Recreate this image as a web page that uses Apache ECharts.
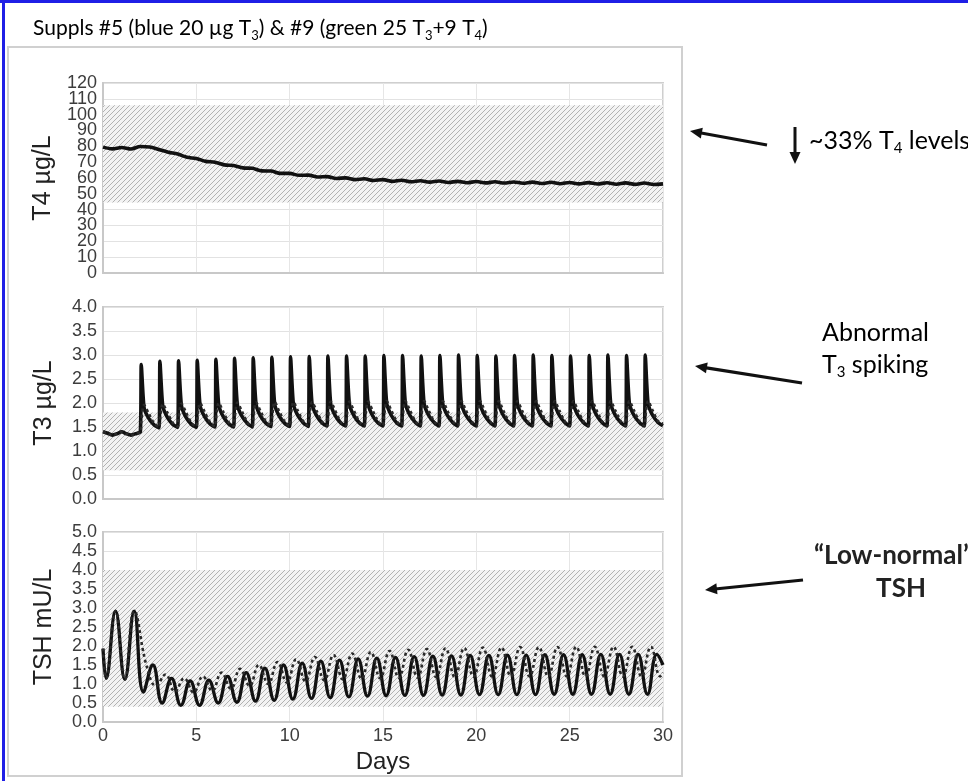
<!DOCTYPE html>
<html><head><meta charset="utf-8">
<script src="https://cdn.jsdelivr.net/npm/echarts@6/dist/echarts.min.js"></script>
<style>html,body{margin:0;padding:0;background:#fff}#c{width:968px;height:781px}</style>
</head><body><div id="c"></div>
<script>
// ---------------- data ----------------
const xTicks = [0, 5, 10, 15, 20, 25, 30];

// T4 (µg/L)
const t4Days = [0,0.5,1,1.5,2,2.5,3,3.5,4,4.5,5,5.5,6,6.5,7,7.5,8,8.5,9,9.5,10,10.5,11,11.5,12,12.5,13,13.5,14,14.5,15,15.5,16,16.5,17,17.5,18,18.5,19,19.5,20,20.5,21,21.5,22,22.5,23,23.5,24,24.5,25,25.5,26,26.5,27,27.5,28,28.5,29,29.5,30];
const t4Level = [79.5,78.4,79.3,78.3,79.9,79.6,78.0,76.3,75.1,73.1,72.3,70.5,70.0,68.3,67.9,66.4,66.1,64.5,64.4,62.9,62.9,61.7,61.8,60.6,60.9,59.7,60.1,59.0,59.5,58.4,59.0,57.9,58.6,57.6,58.3,57.4,58.1,57.2,57.9,57.0,57.8,56.9,57.6,56.8,57.5,56.7,57.4,56.5,57.3,56.4,57.2,56.3,57.1,56.2,57.0,56.1,56.9,56.0,56.8,55.9,56.3];
const t4Band = [44.5, 106];

// T3 (µg/L)
const t3PreDays = [0,0.25,0.5,0.75,1,1.25,1.5,1.75];
const t3PreLevel = [1.40,1.37,1.33,1.36,1.40,1.36,1.33,1.36];
const t3SpikeDays = [2,3,4,5,6,7,8,9,10,11,12,13,14,15,16,17,18,19,20,21,22,23,24,25,26,27,28,29];
const t3Offsets = [0, 0.05, 0.2, 0.45, 0.75];
const t3Blue = [
 [1.40,2.80,1.90,1.68,1.54],[1.48,2.87,1.94,1.70,1.55],[1.49,2.88,1.95,1.70,1.55],[1.49,2.89,1.95,1.71,1.56],
 [1.50,2.91,1.96,1.71,1.56],[1.50,2.93,1.96,1.72,1.57],[1.50,2.94,1.97,1.72,1.57],[1.51,2.95,1.97,1.72,1.57],
 [1.51,2.96,1.98,1.73,1.58],[1.51,2.97,1.98,1.73,1.58],[1.52,2.98,1.98,1.73,1.58],[1.52,2.98,1.98,1.73,1.58],
 [1.52,2.98,1.99,1.73,1.58],[1.52,2.99,1.99,1.74,1.58],[1.52,2.99,1.99,1.74,1.59],[1.52,2.98,1.99,1.74,1.59],
 [1.52,2.99,1.99,1.74,1.59],[1.52,3.00,1.99,1.74,1.59],[1.52,2.99,1.99,1.74,1.59],[1.52,2.98,1.99,1.74,1.59],
 [1.52,2.99,1.99,1.74,1.59],[1.52,3.00,1.99,1.74,1.59],[1.52,2.99,1.99,1.74,1.59],[1.52,2.98,1.99,1.74,1.59],
 [1.52,2.99,1.99,1.74,1.59],[1.52,3.00,1.99,1.74,1.59],[1.52,2.99,1.99,1.74,1.59],[1.52,3.00,1.99,1.74,1.59]
];
const t3Green = [
 [1.40,1.62,1.96,1.78,1.57],[1.50,1.66,1.98,1.80,1.58],[1.51,1.67,1.99,1.80,1.58],[1.51,1.67,2.00,1.81,1.59],
 [1.51,1.68,2.00,1.81,1.59],[1.52,1.68,2.01,1.82,1.59],[1.52,1.69,2.01,1.82,1.60],[1.52,1.69,2.02,1.82,1.60],
 [1.52,1.69,2.02,1.83,1.60],[1.53,1.70,2.02,1.83,1.60],[1.53,1.70,2.03,1.83,1.60],[1.53,1.70,2.03,1.83,1.60],
 [1.53,1.70,2.03,1.84,1.61],[1.53,1.70,2.04,1.84,1.61],[1.53,1.70,2.04,1.84,1.61],[1.53,1.70,2.04,1.84,1.61],
 [1.53,1.70,2.04,1.84,1.61],[1.53,1.70,2.04,1.84,1.61],[1.53,1.70,2.04,1.84,1.61],[1.53,1.70,2.04,1.84,1.61],
 [1.53,1.70,2.04,1.84,1.61],[1.53,1.70,2.04,1.84,1.61],[1.53,1.70,2.04,1.84,1.61],[1.53,1.70,2.04,1.84,1.61],
 [1.53,1.70,2.04,1.84,1.61],[1.53,1.70,2.04,1.84,1.61],[1.53,1.70,2.04,1.84,1.61],[1.53,1.70,2.04,1.84,1.61]
];
const t3BlueEnd = 1.53;
const t3GreenEnd = 1.57;
const t3Band = [0.6, 1.8];

// TSH (mU/L)
const tshCycleDays = [0,1,2,3,4,5,6,7,8,9,10,11,12,13,14,15,16,17,18,19,20,21,22,23,24,25,26,27,28,29];
const tshBlueOffsets = [0.17, 0.67];
const tshBlue = [1.93,
 1.15,2.92, 1.12,2.92, 0.79,1.50, 0.50,1.15, 0.44,1.08, 0.44,1.10, 0.50,1.20, 0.52,1.30, 0.55,1.42, 0.57,1.50,
 0.60,1.55, 0.62,1.60, 0.64,1.63, 0.66,1.66, 0.68,1.68, 0.69,1.70, 0.70,1.72, 0.70,1.73, 0.71,1.74, 0.71,1.75,
 0.72,1.75, 0.72,1.76, 0.72,1.76, 0.72,1.77, 0.73,1.77, 0.73,1.77, 0.73,1.78, 0.73,1.78, 0.73,1.78, 0.73,1.78,
 1.50];
const tshGreenOffsets = [0.35, 0.85];
const tshGreen = [1.93, 1.15,2.92, 1.12,2.92,
 1.45,0.95, 1.25,0.80, 1.15,0.78, 1.20,0.82, 1.30,0.88, 1.40,0.95, 1.50,1.00, 1.58,1.04,
 1.65,1.07, 1.71,1.10, 1.76,1.12, 1.80,1.14, 1.84,1.15, 1.87,1.16, 1.90,1.17, 1.92,1.18, 1.94,1.18, 1.95,1.19,
 1.96,1.19, 1.96,1.20, 1.97,1.20, 1.97,1.20, 1.97,1.20, 1.98,1.20, 1.98,1.20, 1.98,1.20, 1.98,1.20, 1.98,1.20,
 1.30];
const tshBand = [0.4, 4.0];

// ---------------- build ----------------
const t4Data = t4Days.map((d, i) => [d, t4Level[i]]);

function t3Series(rows, end) {
  const out = t3PreDays.map((d, i) => [d, t3PreLevel[i]]);
  rows.forEach((row, k) => t3Offsets.forEach((o, j) => out.push([t3SpikeDays[k] + o, row[j]])));
  out.push([30, end]);
  return out;
}
const t3BlueData = t3Series(t3Blue, t3BlueEnd);
const t3GreenData = t3Series(t3Green, t3GreenEnd);

const tshBlueData = [[0, tshBlue[0]]];
tshCycleDays.forEach((d, k) => tshBlueOffsets.forEach((o, j) => tshBlueData.push([d + o, tshBlue[1 + 2 * k + j]])));
tshBlueData.push([30, tshBlue[tshBlue.length - 1]]);

const tshGreenData = [[0, tshGreen[0]]];
[0, 1].forEach((d, k) => tshBlueOffsets.forEach((o, j) => tshGreenData.push([d + o, tshGreen[1 + 2 * k + j]])));
tshCycleDays.slice(2).forEach((d, k) => tshGreenOffsets.forEach((o, j) => tshGreenData.push([d + o, tshGreen[5 + 2 * k + j]])));
tshGreenData.push([30, tshGreen[tshGreen.length - 1]]);

// hatch pattern
const hatch = document.createElement('canvas');
hatch.width = 5; hatch.height = 5;
(function () {
  const c = hatch.getContext('2d');
  c.fillStyle = '#f3f3f3'; c.fillRect(0, 0, 5, 5);
  c.strokeStyle = '#b2b2b2'; c.lineWidth = 1;
  c.beginPath();
  c.moveTo(0, 5); c.lineTo(5, 0);
  c.moveTo(-1, 1); c.lineTo(1, -1);
  c.moveTo(4, 6); c.lineTo(6, 4);
  c.stroke();
})();
const hatchFill = { image: hatch, repeat: 'repeat' };

const grids = [
  { left: 103, top: 83, width: 560, height: 190 },
  { left: 103, top: 307, width: 560, height: 192 },
  { left: 103, top: 532, width: 560, height: 190 }
].map(g => Object.assign(g, { show: true, borderColor: '#cfcfcf', borderWidth: 2, containLabel: false }));

const yNames = ['T4 µg/L', 'T3 µg/L', 'TSH mU/L'];
const yRanges = [[0, 120, 10], [0, 4, 0.5], [0, 5, 0.5]];
const labelFont = { fontSize: 18, color: '#3c3c3c', fontFamily: 'Liberation Sans' };

const xAxes = [0, 1, 2].map(i => ({
  type: 'value', gridIndex: i, min: 0, max: 30, interval: 5,
  axisLine: { show: true, lineStyle: { color: '#c8c8c8', width: 2 } },
  axisTick: { show: false },
  splitLine: { show: true, lineStyle: { color: '#e6e6e6', width: 1 } },
  axisLabel: i === 2 ? Object.assign({ show: true, margin: 5, showMinLabel: true, showMaxLabel: true }, labelFont) : { show: false },
  name: i === 2 ? 'Days' : '', nameLocation: 'middle', nameGap: 28,
  nameTextStyle: { fontSize: 24, color: '#222', fontFamily: 'Liberation Sans' }
}));

const yAxes = [0, 1, 2].map(i => ({
  type: 'value', gridIndex: i, min: yRanges[i][0], max: yRanges[i][1], interval: yRanges[i][2],
  axisLine: { show: true, lineStyle: { color: '#c8c8c8', width: 2 } },
  axisTick: { show: false },
  splitLine: { show: true, lineStyle: { color: '#e2e2e2', width: 1 } },
  axisLabel: Object.assign({
    margin: 6, showMinLabel: true, showMaxLabel: true,
    // the dense T4 scale is split over two overlaid axes (even / odd tens) so every label stays visible
    formatter: v => (i === 0 ? ((v / 10) % 2 === 0 ? String(v) : '') : v.toFixed(1))
  }, labelFont),
  name: yNames[i], nameLocation: 'middle', nameGap: 46, nameRotate: 90,
  nameTextStyle: { fontSize: 25, color: '#222', fontFamily: 'Liberation Sans' }
}));
// second label-only axis for the odd tens of the T4 panel
yAxes.push({
  type: 'value', gridIndex: 0, position: 'left', min: 0, max: 120, interval: 10,
  axisLine: { show: false }, axisTick: { show: false }, splitLine: { show: false },
  axisLabel: Object.assign({ margin: 6, showMinLabel: true, showMaxLabel: true,
    formatter: v => ((v / 10) % 2 === 1 ? String(v) : '') }, labelFont)
});

function band(b) {
  return { silent: true, itemStyle: { color: hatchFill, borderWidth: 0 }, data: [[{ yAxis: b[0] }, { yAxis: b[1] }]] };
}
const solid = { color: '#111', width: 3.3 };
const dotted = { color: '#2a2a2a', width: 2.6, type: [3, 3] };

const series = [
  { type: 'line', xAxisIndex: 0, yAxisIndex: 0, data: t4Data, showSymbol: false, smooth: 0.3, lineStyle: { color: '#111', width: 3.6 }, markArea: band(t4Band), z: 3 },
  { type: 'line', xAxisIndex: 1, yAxisIndex: 1, data: t3BlueData, showSymbol: false, smooth: 0.2, lineStyle: { color: '#111', width: 3.6 }, markArea: band(t3Band), z: 3 },
  { type: 'line', xAxisIndex: 1, yAxisIndex: 1, data: t3GreenData, showSymbol: false, smooth: 0.3, lineStyle: dotted, z: 4 },
  { type: 'line', xAxisIndex: 2, yAxisIndex: 2, data: tshBlueData, showSymbol: false, smooth: 0.45, lineStyle: solid, markArea: band(tshBand), z: 3 },
  { type: 'line', xAxisIndex: 2, yAxisIndex: 2, data: tshGreenData, showSymbol: false, smooth: 0.45, lineStyle: dotted, z: 4 }
];

// annotation helpers (pure drawing geometry)
function arrow(x1, y1, x2, y2, w) {
  const dx = x2 - x1, dy = y2 - y1, L = Math.hypot(dx, dy), ux = dx / L, uy = dy / L;
  const hl = 12, hw = 5.5;
  const bx = x2 - ux * hl, by = y2 - uy * hl;
  return [
    { type: 'line', shape: { x1: x1, y1: y1, x2: bx + ux * 2, y2: by + uy * 2 }, style: { stroke: '#111', lineWidth: w || 3.2 } },
    { type: 'polygon', shape: { points: [[x2, y2], [bx - uy * hw, by + ux * hw], [bx + uy * hw, by - ux * hw]] }, style: { fill: '#111' } }
  ];
}
const fontA = 'Lato';
const richA = {
  n: { fontSize: 25, fontFamily: fontA, color: '#222', lineHeight: 30 },
  s: { fontSize: 15, fontFamily: fontA, color: '#222', lineHeight: 14, verticalAlign: 'bottom' }
};
const richT = {
  k: { fontSize: 21, fontFamily: fontA, color: '#1a1a1a', lineHeight: 28 },
  g: { fontSize: 21, fontFamily: fontA, color: '#a8a8a8', lineHeight: 28 },
  gs: { fontSize: 13, fontFamily: fontA, color: '#a8a8a8', lineHeight: 12, verticalAlign: 'bottom' }
};

const graphic = [
  { type: 'rect', shape: { x: 8, y: 47, width: 674, height: 729 }, style: { fill: 'none', stroke: '#d0d0d0', lineWidth: 2 }, z: -1 },
  { type: 'line', shape: { x1: 0, y1: 1.5, x2: 968, y2: 1.5 }, style: { stroke: '#1f1fe6', lineWidth: 3 } },
  { type: 'line', shape: { x1: 3.5, y1: 0, x2: 3.5, y2: 781 }, style: { stroke: '#1f1fe6', lineWidth: 3 } },
  { type: 'text', x: 33, y: 28, style: { text: '{k|Suppls #5 (}{g|blue 20 µg T}{gs|3}{k|) & #9 (}{g|green 25 T}{gs|3}{g|+9 T}{gs|4}{k|)}', rich: richT, verticalAlign: 'middle', align: 'left' } },
  ...arrow(767, 145, 690, 131),
  ...arrow(795, 127, 795, 164, 3),
  { type: 'text', x: 809, y: 141, style: { text: '{n|~33% T}{s|4}{n| levels}', rich: richA, verticalAlign: 'middle', align: 'left' } },
  ...arrow(802, 383, 695, 366),
  { type: 'text', x: 822, y: 333, style: { text: '{n|Abnormal}', rich: richA, verticalAlign: 'middle', align: 'left' } },
  { type: 'text', x: 822, y: 365, style: { text: '{n|T}{s|3}{n| spiking}', rich: richA, verticalAlign: 'middle', align: 'left' } },
  ...arrow(803, 580, 705, 590),
  { type: 'text', x: 814, y: 556, style: { text: '“Low-normal”', font: 'bold 26px Lato', fill: '#222', verticalAlign: 'middle', align: 'left' } },
  { type: 'text', x: 901, y: 589, style: { text: 'TSH', font: 'bold 26px Lato', fill: '#222', verticalAlign: 'middle', align: 'center' } }
];

const chart = echarts.init(document.getElementById('c'));
chart.setOption({
  animation: false,
  backgroundColor: '#fff',
  grid: grids,
  xAxis: xAxes,
  yAxis: yAxes,
  series: series,
  graphic: graphic
});
</script></body></html>
